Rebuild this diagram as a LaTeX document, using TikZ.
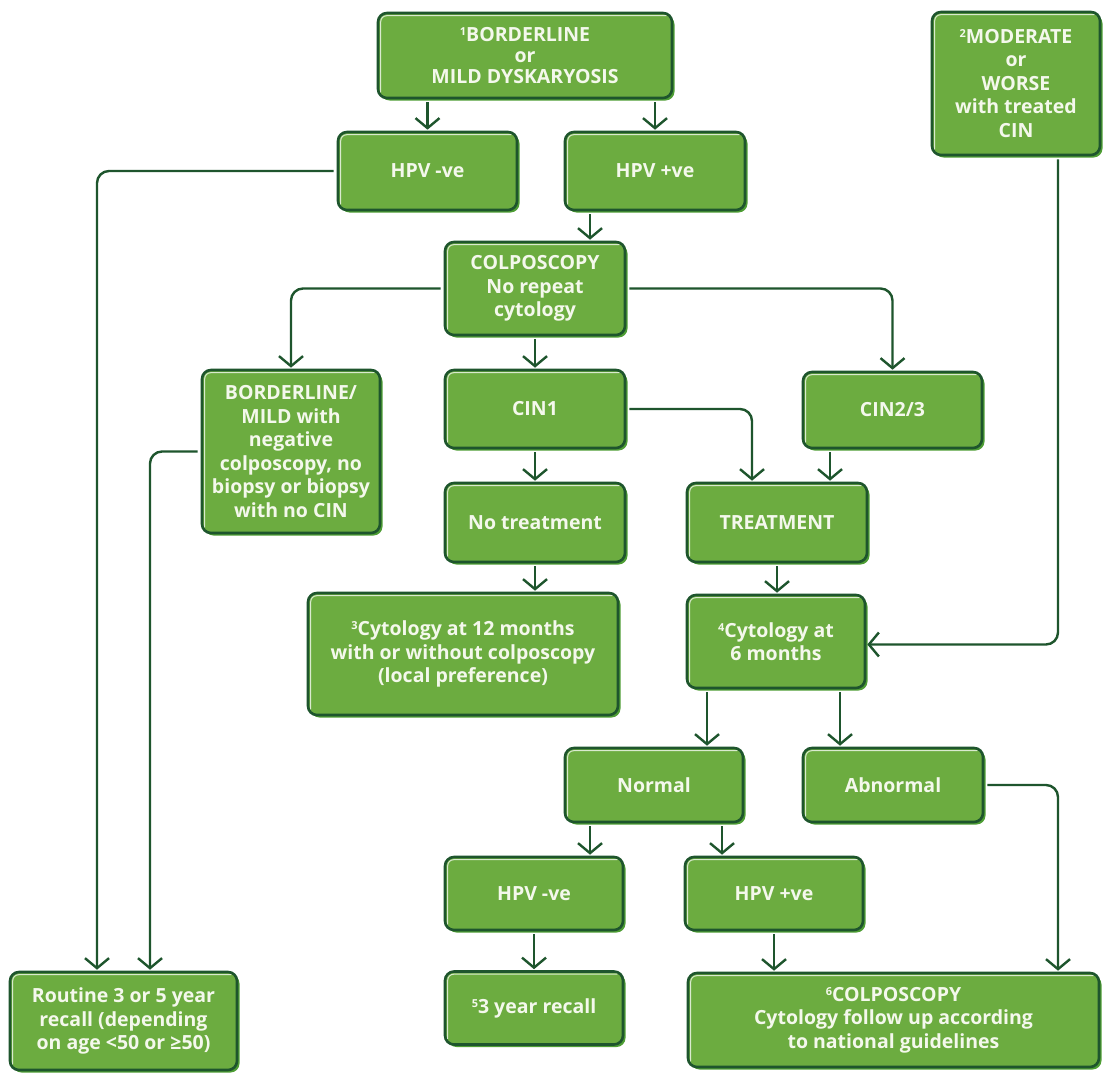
\documentclass[tikz,border=0pt]{standalone}
\usepackage{fontspec}
\setmainfont{Open Sans}
\usetikzlibrary{arrows.meta,shadows}
\definecolor{boxgreen}{HTML}{6CAC40}
\definecolor{dkgreen}{HTML}{1E552D}
\definecolor{shgreen}{HTML}{4E9E34}
\definecolor{txtc}{HTML}{F4F8EC}
\newcommand{\sdig}[1]{\raisebox{0.55ex}{\fontsize{11}{11}\selectfont #1}}
\begin{document}
\begin{tikzpicture}[x=1pt,y=-1pt,
  box/.style={draw=dkgreen, fill=boxgreen, line width=2.6pt, rounded corners=9pt,
    text=txtc, font=\fontsize{19.5}{23.5}\selectfont\bfseries, align=center, inner sep=2pt,
    drop shadow={shadow xshift=2.5pt, shadow yshift=-2.5pt, fill=shgreen, opacity=1}},
  hl/.style={draw=white!75!boxgreen, line width=1pt, rounded corners=6pt},
  arr/.style={draw=dkgreen, line width=2.4pt, rounded corners=12pt, shorten <=3pt, shorten >=1pt,
    -{Straight Barb[length=10pt,width=24pt,line width=2.4pt]}}]
\useasboundingbox (0,0) rectangle (1105,1073);
\fill[white] (0,0) rectangle (1105,1073);

\node[box, minimum width=294pt, minimum height=85pt, font=\fontsize{19.5}{21}\selectfont\bfseries] (top) at (525,55.5) {\sdig{1}BORDERLINE\\or\\MILD DYSKARYOSIS};
\node[box, minimum width=168pt, minimum height=143pt] (mod) at (1016,83.5) {\sdig{2}MODERATE\\or\\WORSE\\with treated\\CIN};
\node[box, minimum width=179pt, minimum height=78pt] (hpvn1) at (427.5,171) {HPV -ve};
\node[box, minimum width=180pt, minimum height=78pt] (hpvp1) at (655,171) {HPV +ve};
\node[box, minimum width=180pt, minimum height=93pt] (colp) at (535,288.5) {COLPOSCOPY\\No repeat\\cytology};
\node[box, minimum width=178pt, minimum height=163pt] (bmild) at (291,451.5) {BORDERLINE/\\MILD with\\negative\\colposcopy, no\\biopsy or biopsy\\with no CIN};
\node[box, minimum width=180pt, minimum height=78pt] (cin1) at (535,409) {CIN1};
\node[box, minimum width=179pt, minimum height=76pt] (cin23) at (892.5,410) {CIN2/3};
\node[box, minimum width=180pt, minimum height=79pt] (notr) at (535,522.5) {No treatment};
\node[box, minimum width=180pt, minimum height=79pt] (treat) at (777,522.5) {TREATMENT};
\node[box, minimum width=310pt, minimum height=122pt] (cyto12) at (463,654) {\sdig{3}Cytology at 12 months\\with or without colposcopy\\(local preference)};
\node[box, minimum width=178pt, minimum height=93pt] (cyto6) at (776,641.5) {\sdig{4}Cytology at\\6 months};
\node[box, minimum width=178pt, minimum height=74pt] (normal) at (654,785) {Normal};
\node[box, minimum width=180pt, minimum height=74pt] (abn) at (893,785) {Abnormal};
\node[box, minimum width=178pt, minimum height=73pt] (hpvn2) at (534,893.5) {HPV -ve};
\node[box, minimum width=178pt, minimum height=73pt] (hpvp2) at (774,893.5) {HPV +ve};
\node[box, minimum width=227pt, minimum height=98pt] (routine) at (123.5,1021) {Routine 3 or 5 year\\recall (depending\\on age <50 or ≥50)};
\node[box, minimum width=178pt, minimum height=73pt] (rec3) at (534,1008) {\sdig{5}3 year recall};
\node[box, minimum width=411pt, minimum height=94pt] (colp2) at (893.5,1020) {\sdig{6}COLPOSCOPY\\Cytology follow up according\\to national guidelines};

\foreach \n in {top,mod,hpvn1,hpvp1,colp,bmild,cin1,cin23,notr,treat,cyto12,cyto6,normal,abn,hpvn2,hpvp2,routine,rec3,colp2}
  \draw[hl] ([shift={(4pt,7pt)}]\n.south west) |- ([shift={(-7pt,-4pt)}]\n.north east);

% connectors
\draw[arr] (top.south -| hpvn1.north) -- (hpvn1.north);
\draw[arr] (top.south -| hpvp1.north) -- (hpvp1.north);
\draw[arr] (hpvn1.west) -| ([xshift=-26.5pt]routine.north);
\draw[arr] ([xshift=-65pt]hpvp1.south) -- ([xshift=-65pt]hpvp1.south |- colp.north);
\draw[arr] (colp.west) -| (bmild.north);
\draw[arr] (colp.south) -- (cin1.north);
\draw[arr] (colp.east) -| (cin23.north);
\draw[arr] (bmild.west) -| ([xshift=26.5pt]routine.north);
\draw[arr] (cin1.east) -| ([xshift=-25pt]treat.north);
\draw[arr] ([xshift=-62.5pt]cin23.south) -- ([xshift=-62.5pt]cin23.south |- treat.north);
\draw[arr] (cin1.south) -- (notr.north);
\draw[arr] (notr.south) -- (notr.south |- cyto12.north);
\draw[arr] (treat.south) -- (treat.south |- cyto6.north);
\draw[arr] ([xshift=42pt]mod.south) |- ([yshift=-3pt]cyto6.east);
\draw[arr] ([xshift=-69pt]cyto6.south) -- ([xshift=-69pt]cyto6.south |- normal.north);
\draw[arr] ([xshift=64pt]cyto6.south) -- ([xshift=64pt]cyto6.south |- abn.north);
\draw[arr] ([xshift=-64pt]normal.south) -- ([xshift=-64pt]normal.south |- hpvn2.north);
\draw[arr] ([xshift=68pt]normal.south) -- ([xshift=68pt]normal.south |- hpvp2.north);
\draw[arr] (hpvn2.south) -- (rec3.north);
\draw[arr] (hpvp2.south) -- (hpvp2.south |- colp2.north);
\draw[arr] (abn.east) -| ([xshift=164.5pt]colp2.north);
\end{tikzpicture}
\end{document}
